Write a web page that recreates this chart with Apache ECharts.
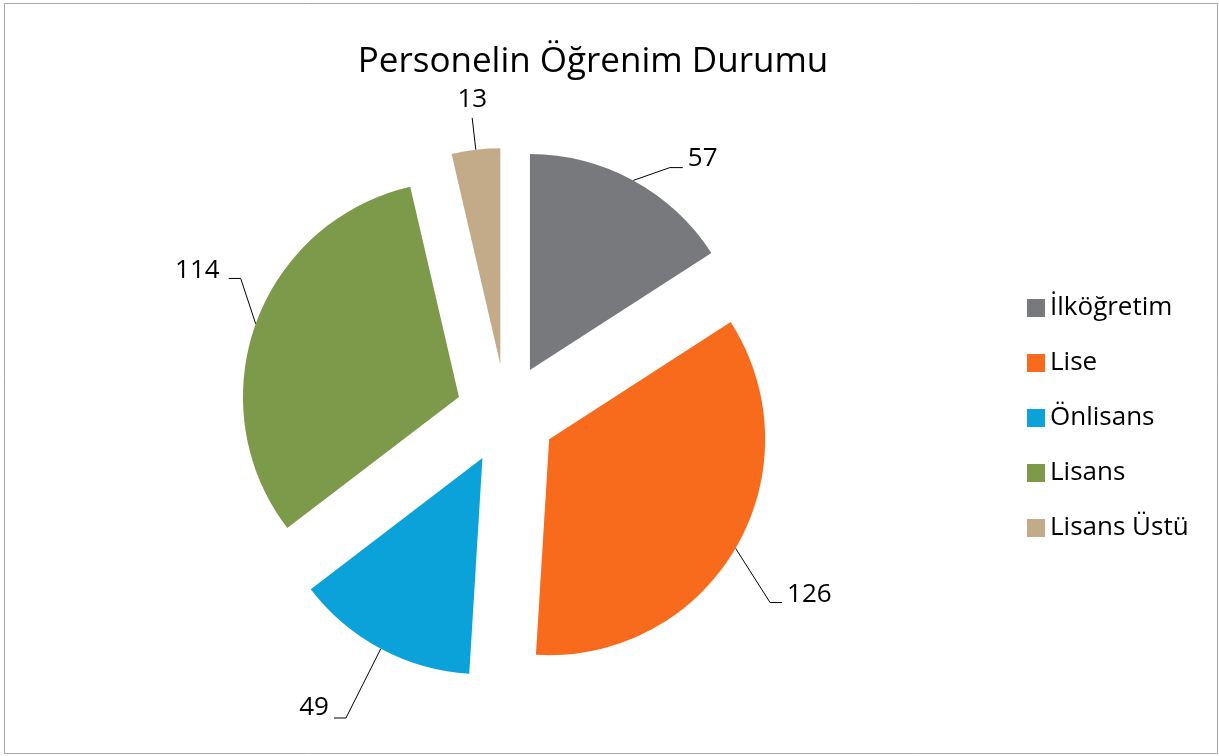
<!DOCTYPE html>
<html lang="tr">
<head>
    <meta charset="utf-8">
    <title>Personelin Öğrenim Durumu</title>
    <script src="https://cdn.jsdelivr.net/npm/echarts@6.0.0/dist/echarts.min.js"></script>
    <style>
        html, body { margin: 0; padding: 0; background: #fff; }
        #chart { width: 1219px; height: 756px; }
    </style>
</head>
<body>
<div id="chart"></div>
<script>
    // veriler
    var categories = ['İlköğretim', 'Lise', 'Önlisans', 'Lisans', 'Lisans Üstü'];
    var counts = [57, 126, 49, 114, 13];
    var colors = ['#78797d', '#f86b1d', '#0aa2d9', '#7d994a', '#c3ab8a'];
    // etiket çizgisi uzunlukları (ilk parça, yatay parça)
    var lineLen = [18, 40, 74, 16, 32];
    var lineLen2 = [13, 12, 12, 12, 0];
    // etiket ve çizgi kaydırmaları
    var labelDx = [28, 0, 0, -4, 20];
    var labelDy = [-6, 26, -6, -48, -18];
    var lineDx = [28, 0, 0, 0, 0];
    var lineDy = [3, 34, 4, -40, 0];

    var chart = echarts.init(document.getElementById('chart'));
    var option = {
        backgroundColor: '#fff',
        textStyle: { fontFamily: 'Open Sans' },
        title: {
            text: 'Personelin Öğrenim Durumu',
            left: 588,
            textAlign: 'center',
            top: 40,
            textStyle: { fontSize: 35, fontWeight: 'normal', color: '#000' }
        },
        legend: {
            orient: 'vertical',
            left: 1022,
            top: 290,
            icon: 'rect',
            itemWidth: 18,
            itemHeight: 18,
            itemGap: 29,
            textStyle: { fontSize: 26, color: '#000' },
            data: categories
        },
        graphic: [{
            type: 'rect',
            shape: { x: 4.5, y: 3.5, width: 1213, height: 750 },
            style: { fill: null, stroke: '#a6a6a6', lineWidth: 1 },
            silent: true
        }],
        series: [{
            type: 'pie',
            center: [506, 414],
            radius: 216,
            startAngle: 90,
            clockwise: true,
            selectedMode: 'multiple',
            selectedOffset: 50,
            avoidLabelOverlap: false,
            emphasis: { disabled: true },
            label: {
                show: true,
                formatter: '{c}',
                fontSize: 26,
                color: '#000'
            },
            labelLine: {
                show: true,
                lineStyle: { color: '#000', width: 1 }
            },
            labelLayout: function (params) {
                var i = params.dataIndex;
                var pts = params.labelLinePoints;
                var out = { dx: labelDx[i], dy: labelDy[i] };
                if (pts && pts.length === 3 && (lineDy[i] || lineDx[i])) {
                    out.labelLinePoints = [
                        pts[0],
                        [pts[1][0] + lineDx[i], pts[1][1] + lineDy[i]],
                        [pts[2][0] + lineDx[i], pts[2][1] + lineDy[i]]
                    ];
                }
                return out;
            },
            data: categories.map(function (name, i) {
                return {
                    name: name,
                    value: counts[i],
                    selected: true,
                    itemStyle: { color: colors[i] },
                    select: { itemStyle: { color: colors[i] } },
                    labelLine: { length: lineLen[i], length2: lineLen2[i] }
                };
            })
        }]
    };
    chart.setOption(option);
</script>
</body>
</html>
